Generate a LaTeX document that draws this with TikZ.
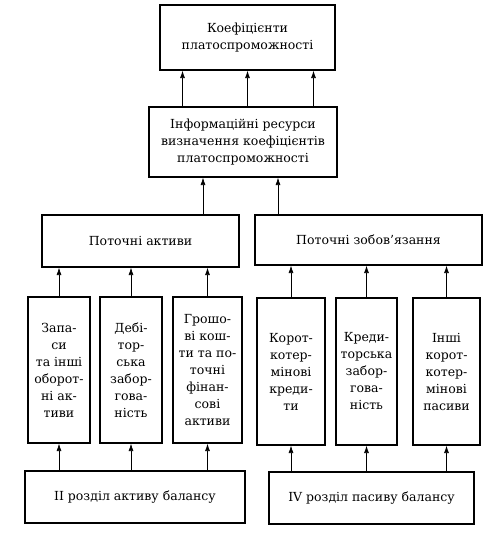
\documentclass[tikz,border=0pt]{standalone}
\usepackage{fontspec}
\setmainfont{DejaVu Serif}
\usetikzlibrary{arrows.meta,positioning}

\begin{document}
\begin{tikzpicture}[x=1pt,y=-1pt,
  box/.style={draw,line width=1.1pt,align=center,inner sep=0pt,font=\fontsize{12.5}{17}\selectfont},
  arr/.style={-{Latex[length=7.5pt,width=5pt]},line width=0.7pt}]
\useasboundingbox (0,0) rectangle (499,536);
% upper part
\node[box,minimum width=175pt,minimum height=65pt] (koef) at (247.5,37.5) {Коефіцієнти\\платоспроможності};
\node[box,minimum width=188pt,minimum height=70pt] (info) at (243,142) {Інформаційні ресурси\\визначення коефіцієнтів\\платоспроможності};
\node[box,minimum width=197pt,minimum height=52pt] (akt) at (140.5,241) {Поточні активи};
\node[box,minimum width=227pt,minimum height=50pt] (zob) at (368.5,240) {Поточні зобов’язання};
% items
\node[box,minimum width=62pt,minimum height=146pt] (m1) at (59,370) {Запа-\\си\\та інші\\оборот-\\ні ак-\\тиви};
\node[box,minimum width=62pt,minimum height=146pt] (m2) at (131,370) {Дебі-\\тор-\\ська\\забор-\\гова-\\ність};
\node[box,minimum width=69pt,minimum height=146pt] (m3) at (207.5,370) {Грошо-\\ві кош-\\ти та по-\\точні\\фінан-\\сові\\активи};
\node[box,minimum width=68pt,minimum height=147pt] (m4) at (291,371.5) {Корот-\\котер-\\мінові\\креди-\\ти};
\node[box,minimum width=61pt,minimum height=147pt] (m5) at (366.5,371.5) {Креди-\\торська\\забор-\\гова-\\ність};
\node[box,minimum width=67pt,minimum height=147pt] (m6) at (446.5,371.5) {Інші\\корот-\\котер-\\мінові\\пасиви};
% balance sections
\node[box,minimum width=220pt,minimum height=52pt] (razd2) at (135,497) {II розділ активу балансу};
\node[box,minimum width=205pt,minimum height=52pt] (razd4) at (371.5,498) {IV розділ пасиву балансу};
% arrows
\foreach \dx in {-65,0,66}
  \draw[arr] ([xshift=\dx pt]koef.south |- info.north) -- ([xshift=\dx pt]koef.south);
\coordinate (i1) at ([xshift=-40pt]info.south);
\coordinate (i2) at ([xshift=35pt]info.south);
\draw[arr] (i1 |- akt.north) -- (i1);
\draw[arr] (i2 |- zob.north) -- (i2);
\foreach \m in {m1,m2,m3}{
  \draw[arr] (\m.north) -- (\m.north |- akt.south);
  \draw[arr] (\m.south |- razd2.north) -- (\m.south);
}
\foreach \m in {m4,m5,m6}{
  \draw[arr] (\m.north) -- (\m.north |- zob.south);
  \draw[arr] (\m.south |- razd4.north) -- (\m.south);
}
\end{tikzpicture}
\end{document}
